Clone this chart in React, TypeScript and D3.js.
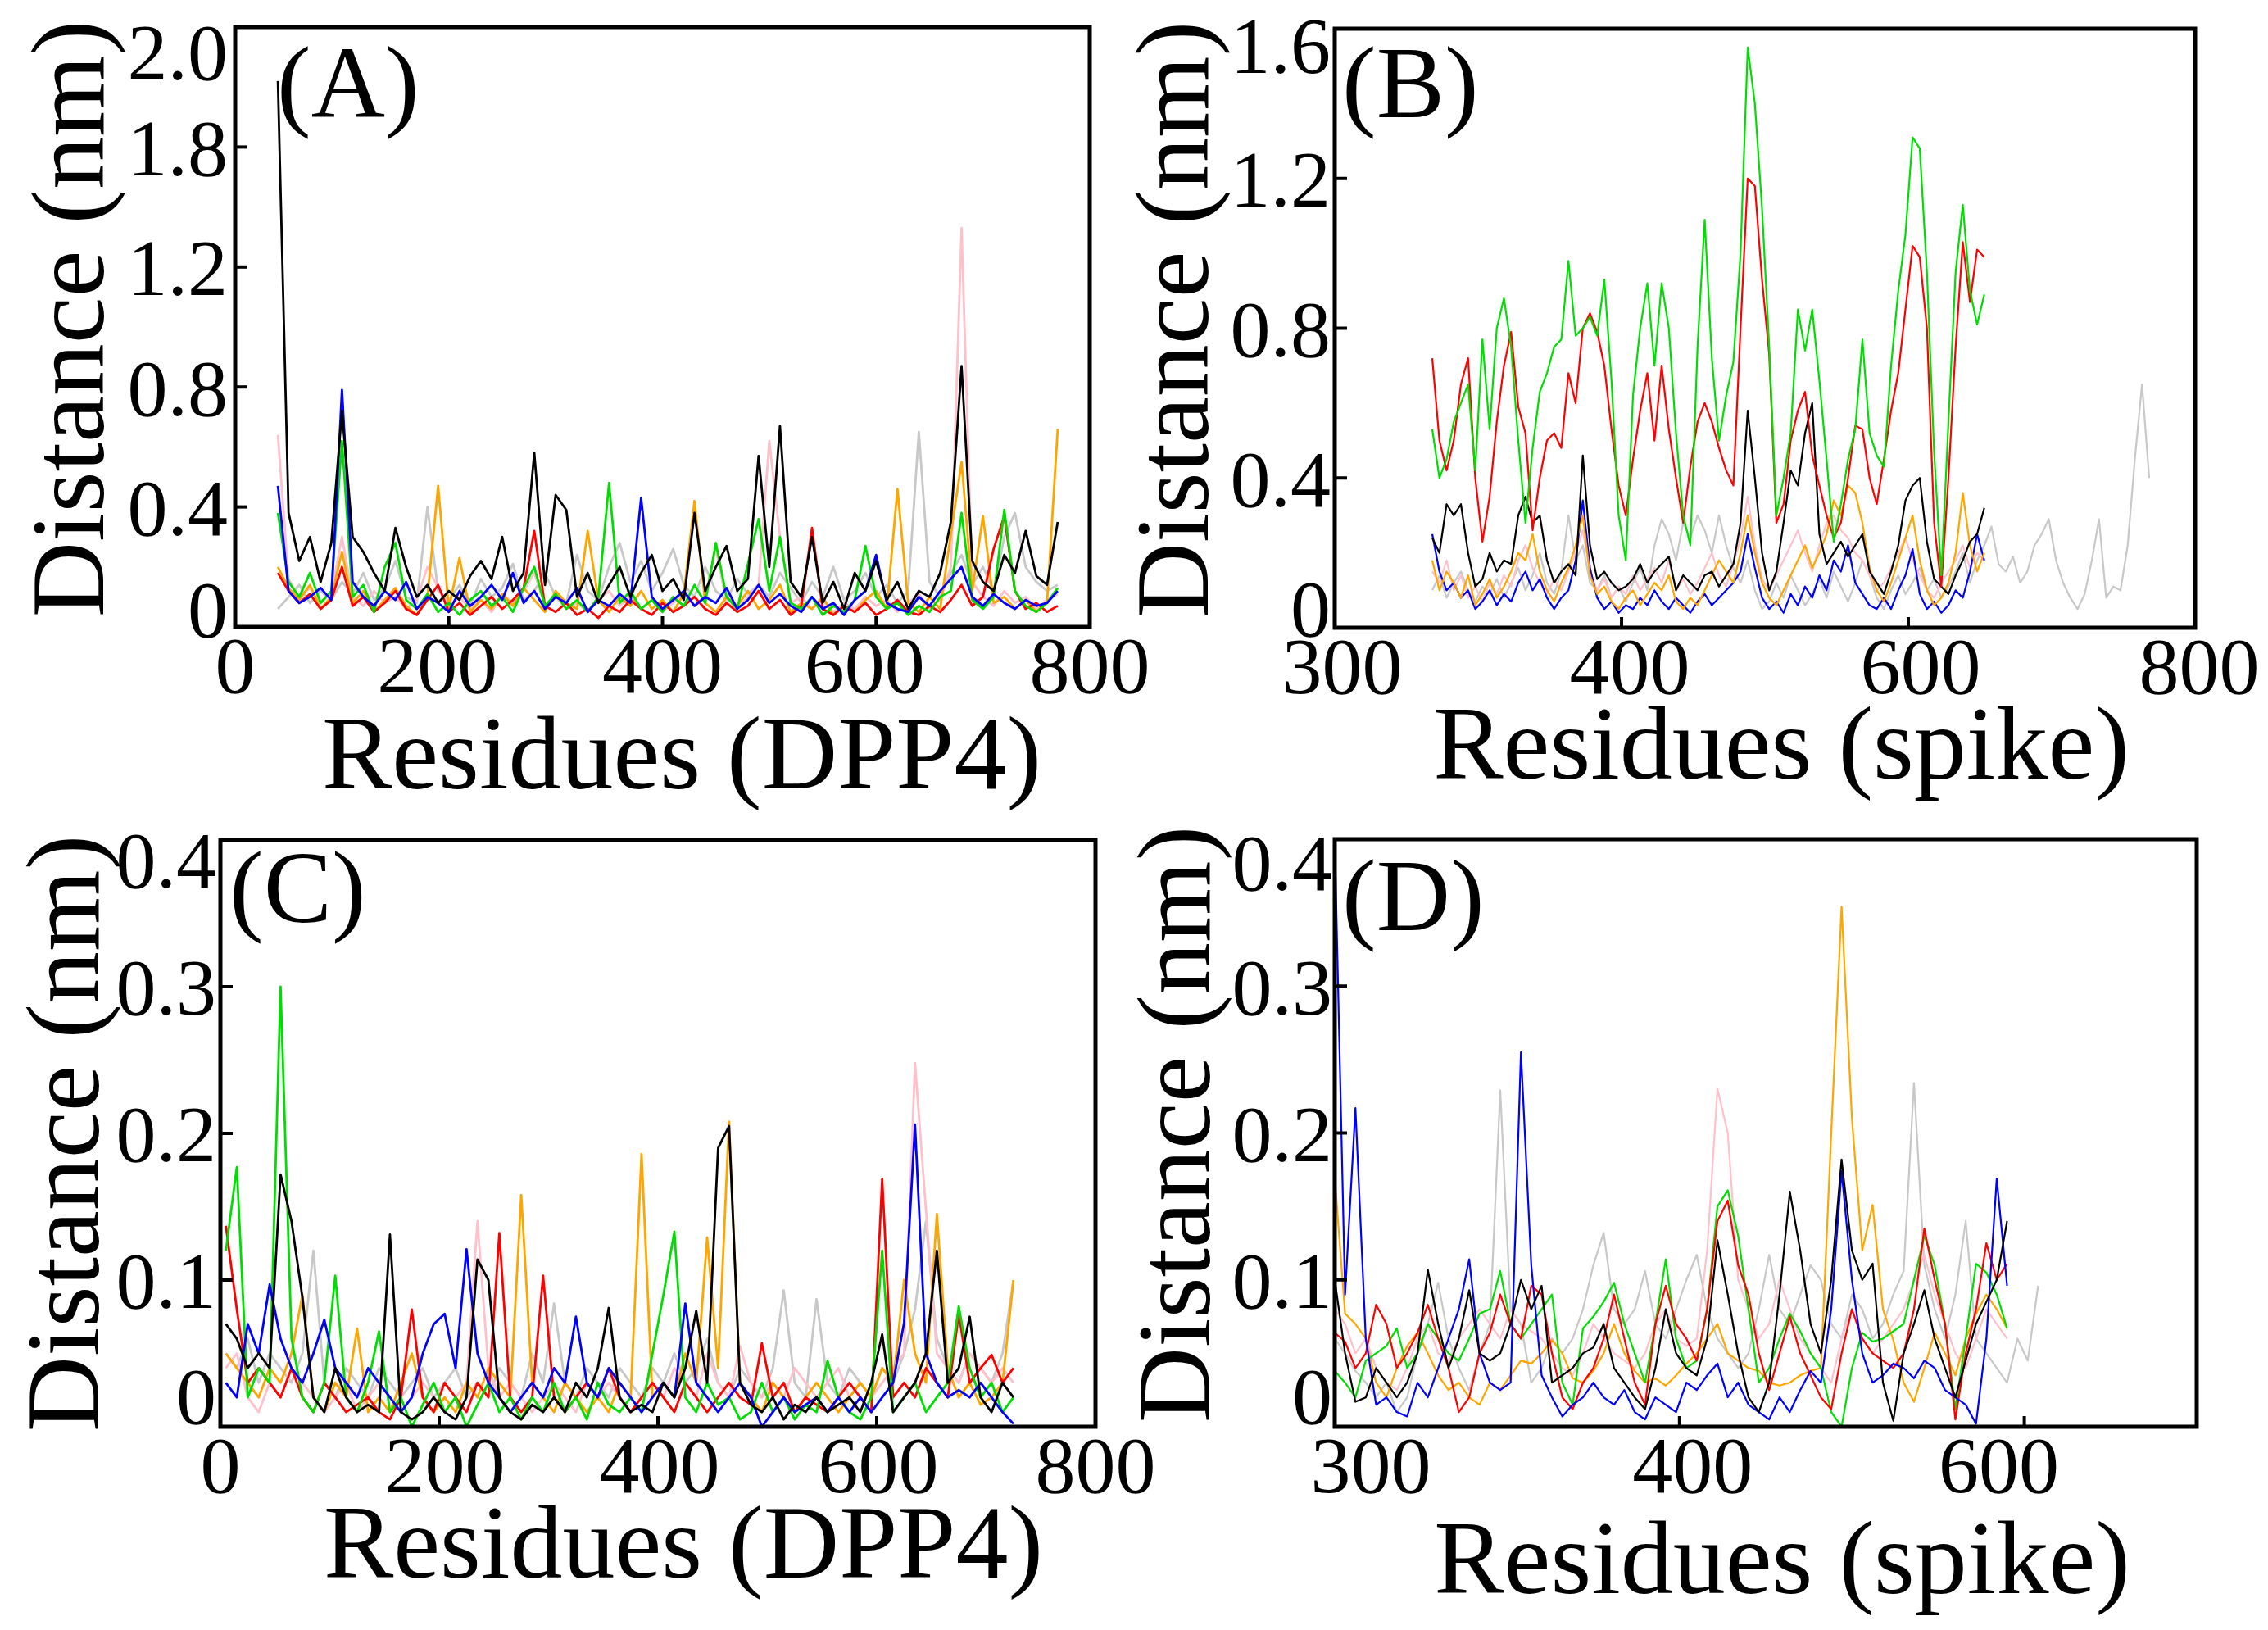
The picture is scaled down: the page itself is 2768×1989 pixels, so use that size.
import React from "react";
import * as d3 from "d3";

const W = 2768;
const H = 1989;
const FONT = "'Liberation Serif', 'Times New Roman', serif";

const COLORS: Record<string, string> = {
  black: "#000000",
  red: "#ff0000",
  green: "#00dd00",
  blue: "#0000ff",
  orange: "#ffa500",
  gray: "#c8c8c8",
  pink: "#ffc0cb",
};

// ---------------- Panel A : residues (DPP4), start 40, step 10 ----------------
const A_X0 = 40;
const A_STEP = 10;
const A_black = [
  1.82, 0.38, 0.22, 0.30, 0.15, 0.28, 0.72, 0.30, 0.25, 0.18,
  0.12, 0.33, 0.20, 0.10, 0.14, 0.08, 0.12, 0.09, 0.17, 0.22,
  0.16, 0.30, 0.12, 0.18, 0.58, 0.14, 0.44, 0.39, 0.10, 0.18,
  0.08, 0.14, 0.20, 0.10, 0.18, 0.24, 0.12, 0.16, 0.09, 0.38,
  0.12, 0.20, 0.27, 0.12, 0.16, 0.57, 0.20, 0.67, 0.15, 0.10,
  0.30, 0.08, 0.15, 0.06, 0.18, 0.12, 0.22, 0.09, 0.15, 0.06,
  0.12, 0.10, 0.18, 0.35, 0.87, 0.22, 0.15, 0.12, 0.24, 0.18,
  0.32, 0.17, 0.14, 0.35,
];
const A_blue = [
  0.47, 0.12, 0.08, 0.10, 0.13, 0.09, 0.79, 0.15, 0.10, 0.07,
  0.12, 0.09, 0.15, 0.06, 0.10, 0.08, 0.05, 0.12, 0.07, 0.10,
  0.14, 0.09, 0.18, 0.08, 0.12, 0.06, 0.10, 0.08, 0.13, 0.05,
  0.09, 0.07, 0.11, 0.08, 0.43, 0.10, 0.06, 0.09, 0.12, 0.07,
  0.10, 0.08, 0.13, 0.06, 0.09, 0.14, 0.08, 0.11, 0.07, 0.05,
  0.10, 0.06, 0.08, 0.04, 0.09, 0.12, 0.24, 0.08, 0.06, 0.05,
  0.10, 0.07, 0.12, 0.16, 0.20, 0.10, 0.07, 0.11, 0.08, 0.06,
  0.09, 0.07, 0.08, 0.12,
];
const A_green = [
  0.38, 0.15, 0.10, 0.18, 0.08, 0.12, 0.62, 0.10, 0.14, 0.05,
  0.20, 0.28, 0.09, 0.06, 0.11, 0.05, 0.08, 0.04, 0.09, 0.12,
  0.07, 0.10, 0.05, 0.13, 0.20, 0.07, 0.11, 0.06, 0.09, 0.05,
  0.10, 0.48, 0.08, 0.12, 0.06, 0.09, 0.05, 0.10, 0.07, 0.14,
  0.08, 0.28, 0.10, 0.06, 0.21, 0.36, 0.12, 0.30, 0.08, 0.06,
  0.10, 0.04, 0.07, 0.05, 0.09, 0.27, 0.10, 0.06, 0.08, 0.04,
  0.07, 0.05, 0.10, 0.12, 0.38, 0.09, 0.06, 0.10, 0.39, 0.12,
  0.07, 0.05, 0.08, 0.13,
];
const A_orange = [
  0.20, 0.13, 0.09, 0.14, 0.06, 0.10, 0.25, 0.08, 0.12, 0.05,
  0.09, 0.13, 0.07, 0.04, 0.10, 0.47, 0.06, 0.23, 0.05, 0.09,
  0.06, 0.11, 0.07, 0.13, 0.09, 0.05, 0.12, 0.08, 0.06, 0.32,
  0.09, 0.05, 0.10, 0.07, 0.12, 0.06, 0.09, 0.05, 0.11, 0.42,
  0.08, 0.05, 0.10, 0.07, 0.12, 0.06, 0.09, 0.14, 0.05, 0.08,
  0.06, 0.10, 0.04, 0.07, 0.05, 0.09, 0.12, 0.06, 0.46, 0.08,
  0.05, 0.10, 0.06, 0.31, 0.55, 0.12, 0.37, 0.08, 0.10, 0.06,
  0.09, 0.05, 0.08, 0.66,
];
const A_gray = [
  0.06, 0.10, 0.14, 0.08, 0.12, 0.09, 0.15, 0.11, 0.18, 0.09,
  0.13, 0.22, 0.10, 0.08, 0.40, 0.12, 0.09, 0.14, 0.07, 0.16,
  0.10, 0.13, 0.21, 0.09, 0.12, 0.18, 0.10, 0.08, 0.24, 0.12,
  0.09, 0.20, 0.28, 0.15, 0.22, 0.12, 0.18, 0.26, 0.14, 0.10,
  0.20, 0.12, 0.09, 0.16, 0.11, 0.14, 0.10, 0.18, 0.13, 0.08,
  0.15, 0.10, 0.20, 0.09, 0.12, 0.18, 0.10, 0.14, 0.08, 0.12,
  0.65, 0.15, 0.10, 0.18, 0.24, 0.14, 0.20, 0.12, 0.30, 0.38,
  0.20, 0.15, 0.12, 0.14,
];
const A_pink = [
  0.64, 0.16, 0.10, 0.13, 0.08, 0.11, 0.30, 0.10, 0.07, 0.12,
  0.08, 0.10, 0.06, 0.09, 0.20, 0.13, 0.07, 0.10, 0.06, 0.09,
  0.05, 0.11, 0.08, 0.12, 0.18, 0.07, 0.10, 0.06, 0.08, 0.05,
  0.09, 0.12, 0.07, 0.10, 0.06, 0.09, 0.05, 0.08, 0.11, 0.07,
  0.10, 0.26, 0.08, 0.06, 0.10, 0.14, 0.62, 0.30, 0.08, 0.10,
  0.06, 0.09, 0.05, 0.08, 0.06, 0.10, 0.07, 0.09, 0.05, 0.08,
  0.11, 0.06, 0.09, 0.20, 1.33, 0.15, 0.10, 0.07, 0.12, 0.08,
  0.10, 0.06, 0.09, 0.11,
];
const A_red = [
  0.18, 0.12, 0.08, 0.11, 0.06, 0.09, 0.20, 0.07, 0.10, 0.05,
  0.08, 0.12, 0.06, 0.04, 0.09, 0.14, 0.05, 0.08, 0.04, 0.07,
  0.10, 0.06, 0.09, 0.13, 0.32, 0.07, 0.05, 0.08, 0.04, 0.06,
  0.03, 0.07, 0.05, 0.09, 0.06, 0.04, 0.08, 0.05, 0.07, 0.10,
  0.06, 0.04, 0.08, 0.05, 0.07, 0.12, 0.06, 0.09, 0.04, 0.07,
  0.33, 0.06, 0.04, 0.07, 0.05, 0.08, 0.04, 0.06, 0.09, 0.05,
  0.04, 0.07, 0.05, 0.09, 0.14, 0.07, 0.10, 0.26, 0.37, 0.12,
  0.06, 0.08, 0.05, 0.07,
];
const A_X_TICKS = [0, 200, 400, 600, 800];
const A_X_LABELS = ["0", "200", "400", "600", "800"];
const A_Y_TICKS = [0, 0.4, 0.8, 1.2, 1.6, 2.0];
const A_Y_LABELS = ["0", "0.4", "0.8", "1.2", "1.8", "2.0"];

// ---------------- Panel B : residues (spike), start 268, step 5 ----------------
const B_X0 = 268;
const B_STEP = 5;
const B_green = [
  0.53, 0.40, 0.45, 0.55, 0.60, 0.65, 0.42, 0.77, 0.53, 0.80,
  0.88, 0.75, 0.50, 0.28, 0.48, 0.63, 0.68, 0.75, 0.77, 0.98,
  0.78, 0.80, 0.83, 0.78, 0.93, 0.66, 0.30, 0.18, 0.62, 0.80,
  0.92, 0.70, 0.92, 0.80, 0.52, 0.30, 0.22, 0.75, 1.09, 0.72,
  0.50, 0.62, 0.71, 1.00, 1.55, 1.40, 1.12, 0.75, 0.30, 0.40,
  0.52, 0.85, 0.74, 0.85, 0.66, 0.45, 0.23, 0.33, 0.45, 0.53,
  0.77, 0.52, 0.46, 0.43, 0.70, 0.90, 1.05, 1.31, 1.28, 0.95,
  0.47, 0.14, 0.55, 0.95, 1.13, 0.90, 0.81, 0.89,
];
const B_red = [
  0.72, 0.50, 0.42, 0.50, 0.65, 0.72, 0.40, 0.23, 0.35, 0.55,
  0.70, 0.79, 0.59, 0.52, 0.26, 0.40, 0.50, 0.52, 0.48, 0.68,
  0.60, 0.80, 0.84, 0.79, 0.70, 0.53, 0.38, 0.30, 0.45, 0.58,
  0.68, 0.50, 0.70, 0.53, 0.40, 0.28, 0.43, 0.55, 0.60, 0.55,
  0.48, 0.42, 0.38, 0.80, 1.20, 1.18, 0.93, 0.73, 0.28, 0.33,
  0.50, 0.58, 0.63, 0.46, 0.38, 0.30, 0.24, 0.28, 0.40, 0.54,
  0.53, 0.40, 0.33, 0.45, 0.58, 0.68, 0.85, 1.02, 0.99, 0.80,
  0.28, 0.11, 0.40, 0.75, 1.03, 0.87, 1.01, 0.99,
];
const B_black = [
  0.24, 0.20, 0.33, 0.30, 0.33, 0.20, 0.11, 0.13, 0.20, 0.15,
  0.18, 0.17, 0.30, 0.35, 0.28, 0.30, 0.18, 0.12, 0.15, 0.17,
  0.14, 0.46, 0.22, 0.13, 0.15, 0.12, 0.10, 0.11, 0.13, 0.17,
  0.12, 0.15, 0.17, 0.19, 0.10, 0.14, 0.12, 0.10, 0.14, 0.15,
  0.11, 0.14, 0.17, 0.28, 0.58, 0.40, 0.20, 0.10, 0.15, 0.28,
  0.42, 0.38, 0.52, 0.60, 0.25, 0.17, 0.20, 0.23, 0.19, 0.22,
  0.25, 0.15, 0.12, 0.09, 0.15, 0.22, 0.34, 0.38, 0.40, 0.23,
  0.13, 0.11, 0.09, 0.14, 0.18, 0.23, 0.25, 0.32,
];
const B_blue = [
  0.25, 0.15, 0.10, 0.12, 0.08, 0.10, 0.05, 0.07, 0.10, 0.06,
  0.09, 0.07, 0.12, 0.15, 0.10, 0.13, 0.08, 0.05, 0.08, 0.10,
  0.18, 0.34, 0.16, 0.08, 0.05, 0.07, 0.04, 0.06, 0.05, 0.08,
  0.06, 0.10, 0.07, 0.05, 0.08, 0.06, 0.04, 0.07, 0.09, 0.06,
  0.08, 0.10, 0.12, 0.15, 0.25, 0.16, 0.08, 0.05, 0.07, 0.04,
  0.09, 0.06, 0.11, 0.08, 0.14, 0.10, 0.18, 0.15, 0.22, 0.12,
  0.09, 0.06, 0.05, 0.08, 0.05, 0.10, 0.14, 0.21, 0.09, 0.05,
  0.07, 0.04, 0.06, 0.10, 0.08, 0.15, 0.25, 0.18,
];
const B_orange = [
  0.18, 0.10, 0.15, 0.12, 0.08, 0.14, 0.06, 0.09, 0.13, 0.08,
  0.11, 0.15, 0.20, 0.18, 0.25, 0.15, 0.10, 0.07, 0.12, 0.16,
  0.22, 0.30, 0.14, 0.09, 0.11, 0.07, 0.05, 0.08, 0.10, 0.06,
  0.09, 0.12, 0.10, 0.14, 0.07, 0.05, 0.08, 0.06, 0.10, 0.14,
  0.18, 0.15, 0.12, 0.20, 0.30, 0.20, 0.12, 0.08, 0.06, 0.10,
  0.14, 0.18, 0.22, 0.16, 0.20, 0.25, 0.34, 0.30, 0.38, 0.36,
  0.28, 0.16, 0.10, 0.07, 0.12, 0.18, 0.24, 0.30, 0.18, 0.10,
  0.06, 0.08, 0.12, 0.20, 0.36, 0.22, 0.15, 0.20,
];
const B_pink = [
  0.15, 0.12, 0.18, 0.10, 0.14, 0.08, 0.11, 0.07, 0.12, 0.09,
  0.14, 0.11, 0.18, 0.22, 0.16, 0.12, 0.09, 0.13, 0.10, 0.15,
  0.20, 0.26, 0.15, 0.10, 0.13, 0.08, 0.11, 0.09, 0.14, 0.10,
  0.13, 0.16, 0.12, 0.18, 0.10, 0.13, 0.09, 0.12, 0.16, 0.20,
  0.14, 0.11, 0.17, 0.24, 0.35, 0.22, 0.13, 0.10, 0.14, 0.18,
  0.22, 0.26, 0.20, 0.15, 0.22, 0.28, 0.30, 0.26, 0.24, 0.20,
  0.18, 0.14, 0.10, 0.12, 0.16, 0.20, 0.24, 0.18, 0.14, 0.10,
  0.08, 0.12, 0.15, 0.18, 0.22, 0.16, 0.20, 0.18,
];
const B_gray = [
  0.10, 0.14, 0.08, 0.12, 0.15, 0.10, 0.07, 0.11, 0.09, 0.13,
  0.08, 0.12, 0.16, 0.10, 0.14, 0.20, 0.12, 0.09, 0.15, 0.30,
  0.18, 0.22, 0.12, 0.10, 0.14, 0.08, 0.11, 0.07, 0.12, 0.16,
  0.10, 0.22, 0.29, 0.25, 0.18, 0.28, 0.24, 0.30, 0.26, 0.20,
  0.30, 0.22, 0.16, 0.12, 0.18, 0.10, 0.05, 0.07, 0.12, 0.08,
  0.14, 0.10, 0.06, 0.09, 0.13, 0.08, 0.15, 0.11, 0.07, 0.12,
  0.18, 0.14, 0.08, 0.05, 0.10, 0.14, 0.09, 0.12, 0.16, 0.10,
  0.13, 0.08, 0.11, 0.15, 0.20, 0.12, 0.18, 0.22, 0.27, 0.17,
  0.15, 0.19, 0.12, 0.15, 0.22, 0.25, 0.29, 0.18, 0.12, 0.08,
  0.05, 0.09, 0.18, 0.29, 0.08, 0.11, 0.10, 0.22, 0.45, 0.65,
  0.40,
];
const B_X_TICKS = [200, 400, 600, 800];
const B_X_LABELS = ["300", "400", "600", "800"];
const B_Y_TICKS = [0, 0.4, 0.8, 1.2, 1.6];
const B_Y_LABELS = ["0", "0.4", "0.8", "1.2", "1.6"];

// ---------------- Panel C : residues (DPP4), start 5, step 10 ----------------
const C_X0 = 5;
const C_STEP = 10;
const C_green = [
  0.12, 0.177, 0.02, 0.04, 0.03, 0.30, 0.06, 0.02, 0.01, 0.03,
  0.103, 0.02, 0.01, 0.03, 0.065, 0.01, 0.02, 0.00, 0.015, 0.03,
  0.01, 0.02, 0.00, 0.015, 0.03, 0.01, 0.02, 0.005, 0.02, 0.01,
  0.03, 0.01, 0.02, 0.005, 0.03, 0.015, 0.01, 0.02, 0.01, 0.05,
  0.09, 0.133, 0.02, 0.01, 0.03, 0.015, 0.02, 0.005, 0.01, 0.03,
  0.01, 0.02, 0.005, 0.015, 0.01, 0.045, 0.02, 0.01, 0.005, 0.02,
  0.12, 0.01, 0.02, 0.03, 0.01, 0.02, 0.03, 0.082, 0.04, 0.02,
  0.03, 0.01, 0.02,
];
const C_black = [
  0.07, 0.06, 0.04, 0.05, 0.04, 0.172, 0.14, 0.088, 0.02, 0.01,
  0.04, 0.02, 0.01, 0.015, 0.01, 0.131, 0.01, 0.005, 0.01, 0.02,
  0.01, 0.005, 0.02, 0.114, 0.10, 0.02, 0.01, 0.005, 0.015, 0.01,
  0.02, 0.01, 0.03, 0.02, 0.04, 0.081, 0.02, 0.01, 0.015, 0.01,
  0.03, 0.02, 0.04, 0.079, 0.03, 0.19, 0.205, 0.03, 0.015, 0.01,
  0.02, 0.005, 0.015, 0.01, 0.02, 0.01, 0.015, 0.02, 0.01, 0.03,
  0.063, 0.01, 0.02, 0.03, 0.05, 0.12, 0.03, 0.04, 0.075, 0.02,
  0.01, 0.03, 0.02,
];
const C_blue = [
  0.03, 0.02, 0.07, 0.05, 0.097, 0.06, 0.04, 0.03, 0.05, 0.073,
  0.04, 0.03, 0.02, 0.04, 0.03, 0.02, 0.01, 0.02, 0.05, 0.07,
  0.077, 0.04, 0.121, 0.05, 0.03, 0.02, 0.01, 0.02, 0.03, 0.02,
  0.04, 0.03, 0.075, 0.03, 0.02, 0.04, 0.03, 0.02, 0.01, 0.02,
  0.03, 0.02, 0.084, 0.03, 0.02, 0.01, 0.02, 0.03, 0.02, 0.00,
  0.01, 0.02, 0.01, 0.015, 0.02, 0.01, 0.02, 0.01, 0.02, 0.01,
  0.02, 0.03, 0.071, 0.206, 0.05, 0.03, 0.02, 0.025, 0.02, 0.03,
  0.02, 0.01, 0.002,
];
const C_orange = [
  0.05, 0.04, 0.03, 0.02, 0.04, 0.03, 0.05, 0.09, 0.02, 0.01,
  0.03, 0.02, 0.067, 0.01, 0.02, 0.01, 0.03, 0.05, 0.02, 0.01,
  0.02, 0.01, 0.03, 0.02, 0.04, 0.03, 0.02, 0.158, 0.03, 0.02,
  0.01, 0.03, 0.02, 0.01, 0.02, 0.01, 0.03, 0.02, 0.186, 0.02,
  0.03, 0.02, 0.05, 0.03, 0.129, 0.04, 0.208, 0.03, 0.02, 0.01,
  0.03, 0.02, 0.01, 0.02, 0.03, 0.02, 0.01, 0.02, 0.03, 0.02,
  0.04, 0.03, 0.10, 0.05, 0.03, 0.145, 0.04, 0.02, 0.03, 0.015,
  0.02, 0.03, 0.10,
];
const C_red = [
  0.137, 0.08, 0.03, 0.04, 0.03, 0.02, 0.04, 0.02, 0.01, 0.03,
  0.02, 0.01, 0.015, 0.02, 0.01, 0.005, 0.02, 0.08, 0.02, 0.01,
  0.03, 0.02, 0.01, 0.03, 0.02, 0.132, 0.02, 0.01, 0.02, 0.103,
  0.02, 0.01, 0.02, 0.03, 0.02, 0.04, 0.02, 0.01, 0.02, 0.03,
  0.02, 0.01, 0.03, 0.02, 0.01, 0.02, 0.03, 0.02, 0.015, 0.057,
  0.02, 0.03, 0.01, 0.02, 0.015, 0.01, 0.02, 0.03, 0.02, 0.01,
  0.169, 0.02, 0.03, 0.02, 0.04, 0.03, 0.02, 0.077, 0.03, 0.04,
  0.049, 0.03, 0.04,
];
const C_pink = [
  0.04, 0.05, 0.02, 0.01, 0.03, 0.02, 0.04, 0.03, 0.02, 0.01,
  0.02, 0.03, 0.01, 0.02, 0.03, 0.02, 0.01, 0.02, 0.03, 0.02,
  0.01, 0.02, 0.03, 0.14, 0.04, 0.02, 0.03, 0.02, 0.01, 0.02,
  0.03, 0.02, 0.01, 0.03, 0.02, 0.03, 0.02, 0.01, 0.02, 0.03,
  0.02, 0.04, 0.03, 0.02, 0.05, 0.03, 0.02, 0.055, 0.03, 0.02,
  0.03, 0.02, 0.04, 0.03, 0.02, 0.03, 0.04, 0.02, 0.03, 0.02,
  0.03, 0.04, 0.05, 0.248, 0.148, 0.05, 0.04, 0.03, 0.05, 0.04,
  0.03, 0.04, 0.03,
];
const C_gray = [
  0.05, 0.04, 0.06, 0.03, 0.05, 0.04, 0.03, 0.05, 0.12, 0.03,
  0.02, 0.04, 0.03, 0.02, 0.04, 0.03, 0.02, 0.03, 0.04, 0.02,
  0.03, 0.04, 0.02, 0.03, 0.02, 0.04, 0.03, 0.02, 0.05, 0.03,
  0.084, 0.03, 0.02, 0.04, 0.03, 0.02, 0.04, 0.03, 0.02, 0.04,
  0.03, 0.05, 0.03, 0.04, 0.06, 0.03, 0.02, 0.04, 0.03, 0.02,
  0.04, 0.093, 0.03, 0.02, 0.087, 0.03, 0.02, 0.04, 0.03, 0.02,
  0.04, 0.03, 0.05, 0.08, 0.14, 0.06, 0.04, 0.03, 0.05, 0.04,
  0.03, 0.05, 0.10,
];
const C_X_TICKS = [0, 200, 400, 600, 800];
const C_X_LABELS = ["0", "200", "400", "600", "800"];
const C_Y_TICKS = [0, 0.1, 0.2, 0.3, 0.4];
const C_Y_LABELS = ["0", "0.1", "0.2", "0.3", "0.4"];

// ---------------- Panel D : residues (spike), start 200, step 6 ----------------
const D_X0 = 200;
const D_STEP = 6;
const D_blue = [
  0.40, 0.09, 0.217, 0.06, 0.015, 0.02, 0.01, 0.007, 0.03, 0.02,
  0.04, 0.06, 0.08, 0.114, 0.05, 0.03, 0.025, 0.03, 0.255, 0.11,
  0.035, 0.02, 0.007, 0.015, 0.02, 0.03, 0.02, 0.015, 0.025, 0.01,
  0.005, 0.02, 0.015, 0.01, 0.03, 0.025, 0.035, 0.043, 0.02, 0.03,
  0.015, 0.01, 0.005, 0.02, 0.01, 0.025, 0.038, 0.03, 0.08, 0.174,
  0.10, 0.05, 0.03, 0.035, 0.043, 0.04, 0.033, 0.045, 0.04, 0.025,
  0.02, 0.015, 0.002, 0.06, 0.169, 0.096,
];
const D_orange = [
  0.17, 0.077, 0.07, 0.06, 0.03, 0.02, 0.04, 0.055, 0.064, 0.05,
  0.035, 0.025, 0.03, 0.02, 0.015, 0.03, 0.025, 0.035, 0.045, 0.043,
  0.05, 0.059, 0.05, 0.033, 0.03, 0.038, 0.05, 0.07, 0.05, 0.038,
  0.03, 0.033, 0.028, 0.035, 0.043, 0.05, 0.06, 0.07, 0.05, 0.045,
  0.04, 0.038, 0.03, 0.028, 0.03, 0.035, 0.038, 0.04, 0.20, 0.354,
  0.21, 0.12, 0.151, 0.08, 0.059, 0.03, 0.017, 0.04, 0.064, 0.05,
  0.035, 0.06, 0.077, 0.09, 0.08, 0.067,
];
const D_green = [
  0.038, 0.03, 0.02, 0.045, 0.05, 0.055, 0.067, 0.04, 0.05, 0.07,
  0.06, 0.05, 0.045, 0.06, 0.077, 0.08, 0.106, 0.07, 0.06, 0.07,
  0.08, 0.09, 0.03, 0.015, 0.067, 0.075, 0.085, 0.098, 0.07, 0.05,
  0.03, 0.07, 0.114, 0.06, 0.04, 0.045, 0.08, 0.15, 0.161, 0.13,
  0.08, 0.03, 0.04, 0.06, 0.077, 0.065, 0.05, 0.04, 0.01, 0.0,
  0.04, 0.064, 0.058, 0.06, 0.065, 0.07, 0.10, 0.13, 0.11, 0.07,
  0.012, 0.06, 0.111, 0.105, 0.09, 0.067,
];
const D_red = [
  0.064, 0.058, 0.04, 0.05, 0.083, 0.07, 0.04, 0.05, 0.064, 0.083,
  0.06, 0.04, 0.01, 0.02, 0.05, 0.064, 0.09, 0.07, 0.06, 0.096,
  0.09, 0.05, 0.02, 0.012, 0.03, 0.04, 0.06, 0.09, 0.06, 0.03,
  0.015, 0.07, 0.096, 0.07, 0.06, 0.045, 0.08, 0.14, 0.154, 0.11,
  0.09, 0.05, 0.025, 0.05, 0.075, 0.05, 0.035, 0.02, 0.012, 0.05,
  0.08, 0.06, 0.05, 0.045, 0.04, 0.05, 0.08, 0.135, 0.10, 0.07,
  0.005, 0.05, 0.08, 0.125, 0.10, 0.111,
];
const D_black = [
  0.10, 0.05, 0.017, 0.02, 0.04, 0.03, 0.02, 0.03, 0.05, 0.107,
  0.07, 0.04, 0.06, 0.093, 0.05, 0.045, 0.05, 0.07, 0.10, 0.08,
  0.096, 0.03, 0.035, 0.04, 0.05, 0.054, 0.07, 0.04, 0.03, 0.02,
  0.012, 0.04, 0.08, 0.05, 0.04, 0.035, 0.06, 0.127, 0.09, 0.05,
  0.02, 0.01, 0.03, 0.09, 0.16, 0.12, 0.07, 0.05, 0.10, 0.182,
  0.12, 0.10, 0.111, 0.03, 0.004, 0.05, 0.07, 0.093, 0.06, 0.04,
  0.02, 0.045, 0.07, 0.085, 0.10, 0.14,
];
const D_gray = [
  0.06, 0.05, 0.038, 0.03, 0.02, 0.03, 0.01, 0.02, 0.05, 0.07,
  0.098, 0.06, 0.04, 0.025, 0.05, 0.07, 0.229, 0.08, 0.07, 0.03,
  0.04, 0.06, 0.05, 0.06, 0.08, 0.11, 0.132, 0.08, 0.07, 0.08,
  0.106, 0.07, 0.06, 0.08, 0.10, 0.117, 0.08, 0.06, 0.05, 0.04,
  0.05, 0.08, 0.117, 0.08, 0.07, 0.09, 0.11, 0.10, 0.07, 0.06,
  0.09, 0.08, 0.06, 0.07, 0.09, 0.106, 0.234, 0.11, 0.08, 0.06,
  0.09, 0.14, 0.06, 0.05, 0.04, 0.03, 0.06, 0.045, 0.096,
];
const D_pink = [
  0.08, 0.07, 0.05, 0.06, 0.04, 0.03, 0.025, 0.04, 0.06, 0.07,
  0.05, 0.045, 0.06, 0.07, 0.08, 0.07, 0.06, 0.08, 0.07, 0.065,
  0.06, 0.05, 0.04, 0.035, 0.05, 0.07, 0.06, 0.05, 0.045, 0.04,
  0.05, 0.07, 0.08, 0.06, 0.055, 0.06, 0.12, 0.23, 0.20, 0.10,
  0.08, 0.06, 0.07, 0.10, 0.08, 0.06, 0.05, 0.04, 0.03, 0.06,
  0.08, 0.06, 0.05, 0.06, 0.07, 0.08, 0.10, 0.117, 0.09, 0.07,
  0.05, 0.04, 0.06, 0.08, 0.07, 0.06,
];
const D_X_TICKS = [200, 400, 600];
const D_X_LABELS = ["300", "400", "600"];
const D_Y_TICKS = [0, 0.1, 0.2, 0.3, 0.4];
const D_Y_LABELS = ["0", "0.1", "0.2", "0.3", "0.4"];

// ---------------- layout ----------------
type Series = { color: string; values: number[] };
type PanelCfg = {
  key: string;
  tag: string;
  tagPos: [number, number];
  frame: { x0: number; x1: number; y0: number; y1: number };
  xDomain: [number, number];
  yDomain: [number, number];
  x0: number;
  step: number;
  series: Series[];
  xTicks: number[];
  xLabels: string[];
  xLabelDx: number[];
  yTicks: number[];
  yLabels: string[];
  yLabelGap: number;
  yTopDy: number;
  yZeroDy: number;
  xTitle: string;
  xTitlePos: [number, number];
  yTitlePos: [number, number];
  lineWidth: number;
};

const panels: PanelCfg[] = [
  {
    key: "A",
    tag: "(A)",
    tagPos: [338, 143],
    frame: { x0: 287, x1: 1330, y0: 33, y1: 765 },
    xDomain: [0, 800],
    yDomain: [0, 2.0],
    x0: A_X0,
    step: A_STEP,
    series: [
      { color: COLORS.gray, values: A_gray },
      { color: COLORS.pink, values: A_pink },
      { color: COLORS.orange, values: A_orange },
      { color: COLORS.red, values: A_red },
      { color: COLORS.green, values: A_green },
      { color: COLORS.blue, values: A_blue },
      { color: COLORS.black, values: A_black },
    ],
    xTicks: A_X_TICKS,
    xLabels: A_X_LABELS,
    xLabelDx: [0, -14, 0, -14, 0],
    yTicks: A_Y_TICKS,
    yLabels: A_Y_LABELS,
    yLabelGap: 9,
    yTopDy: 30,
    yZeroDy: -22,
    xTitle: "Residues (DPP4)",
    xTitlePos: [832, 962],
    yTitlePos: [126, 389],
    lineWidth: 2.8,
  },
  {
    key: "B",
    tag: "(B)",
    tagPos: [1638, 143],
    frame: { x0: 1629, x1: 2679, y0: 35, y1: 766 },
    xDomain: [200, 800],
    yDomain: [0, 1.6],
    x0: B_X0,
    step: B_STEP,
    series: [
      { color: COLORS.gray, values: B_gray },
      { color: COLORS.pink, values: B_pink },
      { color: COLORS.blue, values: B_blue },
      { color: COLORS.orange, values: B_orange },
      { color: COLORS.black, values: B_black },
      { color: COLORS.red, values: B_red },
      { color: COLORS.green, values: B_green },
    ],
    xTicks: B_X_TICKS,
    xLabels: B_X_LABELS,
    xLabelDx: [9, 10, 15, 5],
    yTicks: B_Y_TICKS,
    yLabels: B_Y_LABELS,
    yLabelGap: 5,
    yTopDy: 20,
    yZeroDy: -24,
    xTitle: "Residues (spike)",
    xTitlePos: [2174, 950],
    yTitlePos: [1474, 390],
    lineWidth: 2.2,
  },
  {
    key: "C",
    tag: "(C)",
    tagPos: [280, 1125],
    frame: { x0: 269, x1: 1337, y0: 1025, y1: 1741 },
    xDomain: [0, 800],
    yDomain: [0, 0.4],
    x0: C_X0,
    step: C_STEP,
    series: [
      { color: COLORS.gray, values: C_gray },
      { color: COLORS.pink, values: C_pink },
      { color: COLORS.orange, values: C_orange },
      { color: COLORS.red, values: C_red },
      { color: COLORS.green, values: C_green },
      { color: COLORS.blue, values: C_blue },
      { color: COLORS.black, values: C_black },
    ],
    xTicks: C_X_TICKS,
    xLabels: C_X_LABELS,
    xLabelDx: [0, 7, 2, 2, 0],
    yTicks: C_Y_TICKS,
    yLabels: C_Y_LABELS,
    yLabelGap: 5,
    yTopDy: 24,
    yZeroDy: -38,
    xTitle: "Residues (DPP4)",
    xTitlePos: [834, 1925],
    yTitlePos: [120, 1383],
    lineWidth: 2.8,
  },
  {
    key: "D",
    tag: "(D)",
    tagPos: [1638, 1135],
    frame: { x0: 1629, x1: 2681, y0: 1024, y1: 1741 },
    xDomain: [200, 700],
    yDomain: [0, 0.4],
    x0: D_X0,
    step: D_STEP,
    series: [
      { color: COLORS.gray, values: D_gray },
      { color: COLORS.pink, values: D_pink },
      { color: COLORS.orange, values: D_orange },
      { color: COLORS.green, values: D_green },
      { color: COLORS.red, values: D_red },
      { color: COLORS.blue, values: D_blue },
      { color: COLORS.black, values: D_black },
    ],
    xTicks: D_X_TICKS,
    xLabels: D_X_LABELS,
    xLabelDx: [44, 16, -31],
    yTicks: D_Y_TICKS,
    yLabels: D_Y_LABELS,
    yLabelGap: 3,
    yTopDy: 28,
    yZeroDy: -38,
    xTitle: "Residues (spike)",
    xTitlePos: [2175, 1944],
    yTitlePos: [1476, 1372],
    lineWidth: 2.2,
  },
];

const TICK_FONT = 98;
const TITLE_FONT = 128;
const TAG_FONT = 125;

function Panel({ cfg }: { cfg: PanelCfg }) {
  const { frame } = cfg;
  const x = d3.scaleLinear().domain(cfg.xDomain).range([frame.x0, frame.x1]);
  const y = d3.scaleLinear().domain(cfg.yDomain).range([frame.y1, frame.y0]);
  const line = d3
    .line<number>()
    .x((_, i) => x(cfg.x0 + i * cfg.step))
    .y((v) => y(v));
  const clipId = `clip-${cfg.key}`;
  const nY = cfg.yTicks.length;
  return (
    <g>
      <defs>
        <clipPath id={clipId}>
          <rect x={frame.x0} y={frame.y0} width={frame.x1 - frame.x0} height={frame.y1 - frame.y0} />
        </clipPath>
      </defs>
      <g clipPath={`url(#${clipId})`}>
        {cfg.series.map((s, k) => (
          <path
            key={k}
            d={line(s.values) || ""}
            fill="none"
            stroke={s.color}
            strokeWidth={cfg.lineWidth}
            strokeLinejoin="round"
          />
        ))}
      </g>
      <rect
        x={frame.x0}
        y={frame.y0}
        width={frame.x1 - frame.x0}
        height={frame.y1 - frame.y0}
        fill="none"
        stroke="#000"
        strokeWidth={5}
      />
      {cfg.xTicks.map((t, i) => (
        <g key={`xt${i}`}>
          <line x1={x(t)} x2={x(t)} y1={frame.y1} y2={frame.y1 - 13} stroke="#000" strokeWidth={4} />
          <text
            x={x(t) + cfg.xLabelDx[i]}
            y={frame.y1 + 80}
            textAnchor="middle"
            fontFamily={FONT}
            fontSize={TICK_FONT}
            fill="#000"
          >
            {cfg.xLabels[i]}
          </text>
        </g>
      ))}
      {cfg.yTicks.map((t, i) => {
        const dy = i === 0 ? cfg.yZeroDy : i === nY - 1 ? cfg.yTopDy : 0;
        return (
          <g key={`yt${i}`}>
            <line x1={frame.x0} x2={frame.x0 + 15} y1={y(t)} y2={y(t)} stroke="#000" strokeWidth={4} />
            <text
              x={frame.x0 - cfg.yLabelGap}
              y={y(t) + dy}
              dy="0.35em"
              textAnchor="end"
              fontFamily={FONT}
              fontSize={TICK_FONT}
              fill="#000"
            >
              {cfg.yLabels[i]}
            </text>
          </g>
        );
      })}
      <text
        x={cfg.xTitlePos[0]}
        y={cfg.xTitlePos[1]}
        textAnchor="middle"
        fontFamily={FONT}
        fontSize={TITLE_FONT}
        fill="#000"
      >
        {cfg.xTitle}
      </text>
      <text
        transform={`translate(${cfg.yTitlePos[0]},${cfg.yTitlePos[1]}) rotate(-90)`}
        textAnchor="middle"
        fontFamily={FONT}
        fontSize={TITLE_FONT}
        fill="#000"
      >
        Distance (nm)
      </text>
      <text x={cfg.tagPos[0]} y={cfg.tagPos[1]} fontFamily={FONT} fontSize={TAG_FONT} fill="#000">
        {cfg.tag}
      </text>
    </g>
  );
}

export default function App() {
  return (
    <svg
      width={W}
      height={H}
      viewBox={`0 0 ${W} ${H}`}
      style={{ position: "absolute", left: 0, top: 0, display: "block", background: "#fff" }}
    >
      <rect x={0} y={0} width={W} height={H} fill="#fff" />
      {panels.map((p) => (
        <Panel key={p.key} cfg={p} />
      ))}
    </svg>
  );
}
